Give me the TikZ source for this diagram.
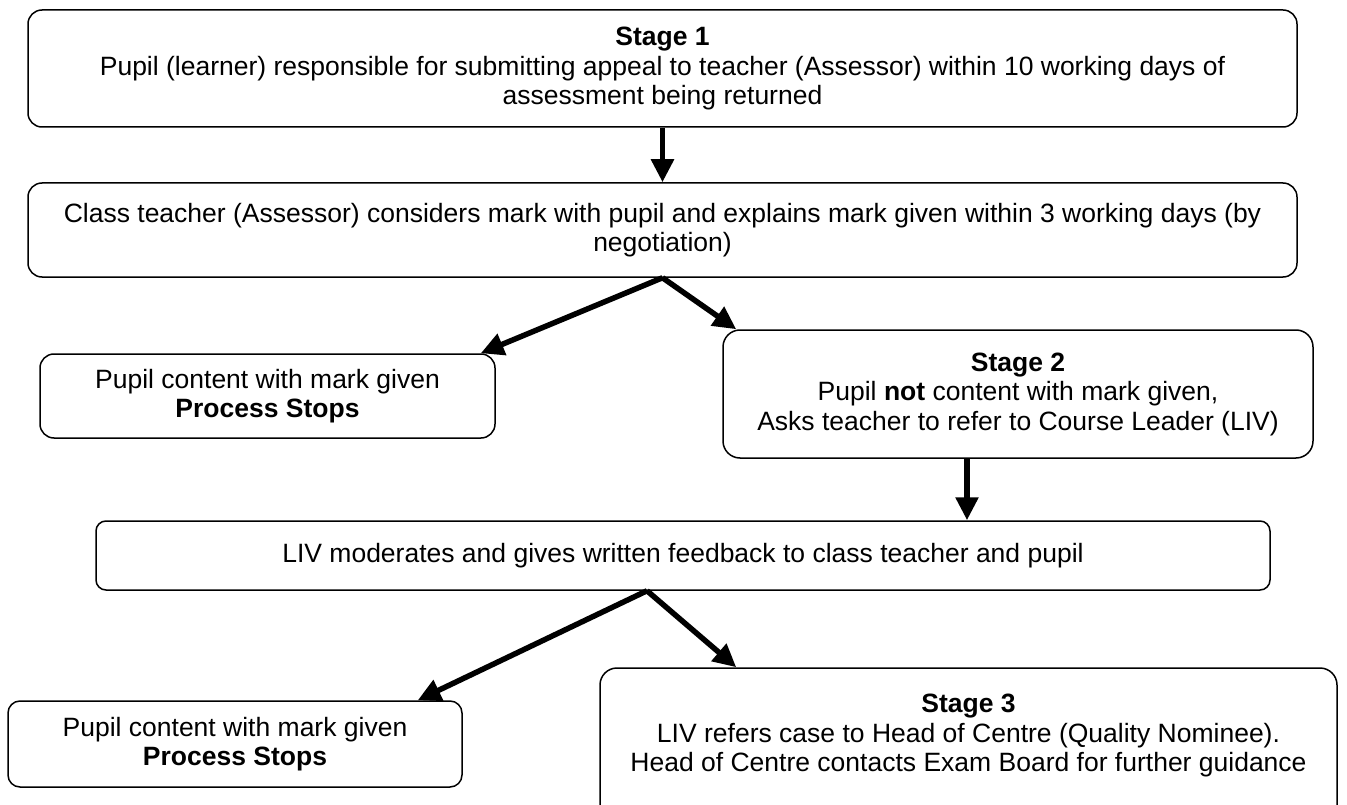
\documentclass[tikz,border=0pt]{standalone}
\usepackage{fontspec}
\setmainfont{Liberation Sans}
\usetikzlibrary{arrows.meta}
\begin{document}
\begin{tikzpicture}[x=1pt,y=-1pt,
	box/.style={draw, line width=1.5pt, rounded corners=14pt, align=center, inner sep=0pt,
		font=\fontsize{26.5}{29.5}\selectfont},
	flow/.style={line width=5.5pt, -{Triangle[length=23pt,width=22pt]}}]
			\useasboundingbox (0,0) rectangle (1347,805);
			% boxes
			\node[box, minimum width=1269pt, minimum height=117pt] (stageone) at (662.5,68.5)
				{\textbf{Stage 1}\\Pupil (learner) responsible for submitting appeal to teacher (Assessor) within 10 working days of\\assessment being returned};
			\node[box, minimum width=1269pt, minimum height=94pt] (negotiate) at (662.5,230)
				{Class teacher (Assessor) considers mark with pupil and explains mark given within 3 working days (by\\negotiation)};
			\node[box, minimum width=455pt, minimum height=84pt] (contentA) at (267.5,396)
				{Pupil content with mark given\\\textbf{Process Stops}};
			\node[box, minimum width=590pt, minimum height=128pt, rounded corners=17pt] (stagetwo) at (1018,394)
				{\textbf{Stage 2}\\Pupil \textbf{not} content with mark given,\\Asks teacher to refer to Course Leader (LIV)};
			\node[box, minimum width=1174pt, minimum height=69pt, rounded corners=10pt] (moderate) at (683,555.5)
				{LIV moderates and gives written feedback to class teacher and pupil};
			\node[box, minimum width=454pt, minimum height=86pt, rounded corners=12pt] (contentB) at (235,744)
				{Pupil content with mark given\\\textbf{Process Stops}};
			\node[box, minimum width=737pt, minimum height=160pt, rounded corners=17pt, text depth=30pt] (stagethree) at (968.5,748)
				{\textbf{Stage 3}\\LIV refers case to Head of Centre (Quality Nominee).\\Head of Centre contacts Exam Board for further guidance};
			% arrows
			\draw[flow] (stageone.south) -- (negotiate.north);
			\draw[flow] (negotiate.south) -- ([xshift=-15pt]contentA.north east);
			\draw[flow] (negotiate.south) -- ([xshift=14pt]stagetwo.north west);
			\draw[flow] ([xshift=-51pt]stagetwo.south) -- ([xshift=-51pt]stagetwo.south |- moderate.north);
			\draw[flow] ([xshift=-36pt]moderate.south) -- ([xshift=-45pt]contentB.north east);
			\draw[flow] ([xshift=-36pt]moderate.south) -- ([xshift=137pt]stagethree.north west);
		\end{tikzpicture}
\end{document}
